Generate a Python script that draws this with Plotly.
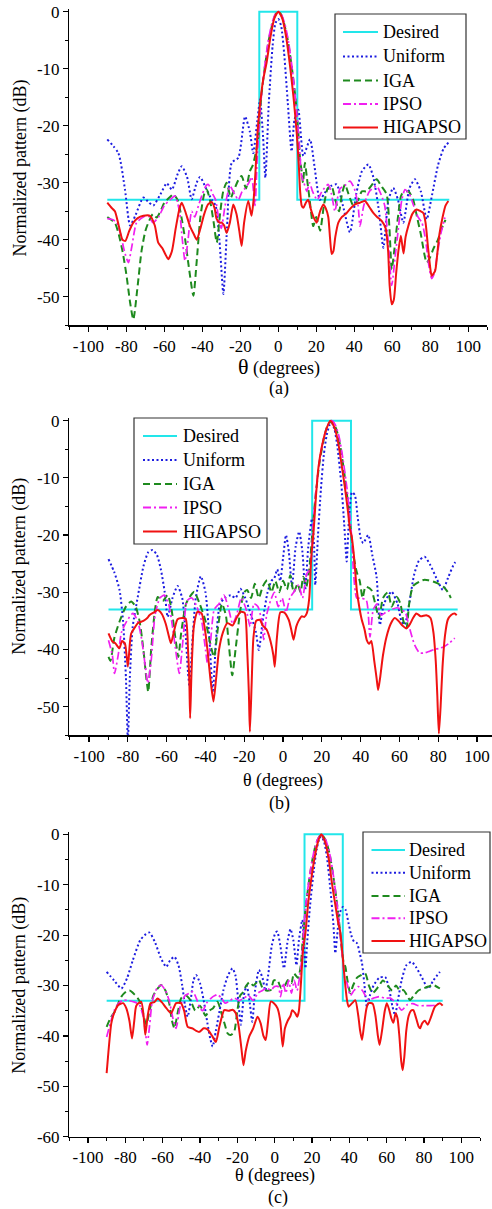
import plotly.graph_objects as go

# ---------------- data (a) ----------------
a_desired_t = [-90, -10, -10, 10, 10, 90]
a_desired_db = [-33, -33, 0, 0, -33, -33]

a_uniform_t = [-90, -84.2, -80.7, -78, -75.3, -71, -68, -65.8, -62, -58.7, -56, -53, -50.8, -48, -45.6, -43, -41.2,
               -38, -35, -33, -31, -28.9, -27, -24.5, -21, -17.5, -15, -13.2, -11, -9.6, -8, -6.8, -5, -3, -1.5, 0,
               1.5, 3, 5, 7, 8.5, 10.5, 13.2, 16.7, 19, 21.9, 25, 28, 30.7, 34, 37.7, 41, 44, 47.4, 50, 53, 55.3, 58,
               60.5, 63, 65.8, 69, 71.9, 75, 78.1, 81, 84, 87, 90]
a_uniform_db = [-22.4, -24.8, -31.2, -37.5, -35.8, -32.6, -33.5, -34, -32, -30.1, -31.2, -28.5, -27.1, -29, -32.9,
                -30, -29, -31, -33, -34, -40, -49.5, -38, -26.5, -25.6, -18.4, -21, -24.8, -19, -15.4, -22, -29.1,
                -16, -6, -2, -1.3, -2.5, -7, -16, -24.5, -19, -17.2, -25.3, -22.4, -27, -33, -31.5, -30.5, -30.3, -34,
                -38.7, -32, -28, -26.8, -29, -35, -41.4, -33, -30.9, -33, -37, -31, -29.4, -31.5, -36.4, -32, -27, -24,
                -22.8]

a_iga_t = [-90, -88, -86, -84, -82, -80, -78, -76.3, -74, -72, -70, -68.4, -66, -64, -62, -60, -57, -55.3, -53, -51,
           -49, -47, -44.7, -43, -41, -39, -37.7, -36, -34, -32.4, -30.5, -29, -27.2, -25, -23, -21, -19.3, -17, -15,
           -13.5, -12, -10.5, -9, -7, -5, -3, -1.5, 0, 1.5, 3, 5, 7, 9, 10.5, 11.5, 12.3, 13, 14, 15, 16.5, 18.4, 20,
           22, 24, 26, 28, 30, 32, 33.5, 35.1, 37, 39.5, 42, 44, 46.5, 49, 51.8, 54, 57, 58.5, 59.7, 61, 63, 65, 68.4,
           71, 73, 75, 78.1, 80, 81.6, 84, 86, 88]
a_iga_db = [-36, -36.5, -37, -39, -42, -46, -51, -54, -48, -42, -38.5, -37, -35.5, -36.1, -35, -33.5, -32.5, -32, -33,
            -36, -40, -45, -49.8, -44, -36, -32, -31.2, -33, -37, -40.5, -35, -31.5, -30, -32.6, -31, -29.5, -28.8,
            -31, -28, -27, -25, -22, -15, -9.5, -5, -2, -0.5, 0, -0.5, -2, -5, -9.5, -15, -21, -26, -28, -30, -26.5,
            -29, -33, -37.6, -36, -38.4, -34, -31, -30.6, -33, -35, -32, -30.3, -32, -34, -33, -31.5, -31.5, -30.5,
            -29.4, -30.5, -32, -38, -45.2, -42, -36, -32, -31.5, -33, -36, -39, -44, -43, -41.6, -40, -38, -36.5]

a_ipso_t = [-90, -87, -85, -83, -81, -78.9, -77, -74.6, -71, -68.4, -66, -63, -60, -57, -54.4, -52, -50.5, -49.1,
            -47.5, -45.6, -44, -42, -40, -38, -36.8, -34.5, -33, -31.5, -30, -28, -25.4, -23, -21, -19, -17.5, -15.5,
            -14, -12.3, -11, -9.5, -7.5, -5.5, -3.5, -1.5, 0, 1.5, 3.5, 5.5, 7.5, 9.5, 11, 12.3, 13.5, 15, 16.5, 18,
            20.5, 23, 26.3, 28, 29.8, 31, 32.5, 35, 37.7, 40, 42, 43, 45, 48, 51.8, 54, 56, 58, 59.7, 61.5, 63.2, 65,
            66.7, 69, 71.2, 73.5, 75.6, 77.5, 79, 80.7, 82, 83.5, 85.5, 87.7]
a_ipso_db = [-36.3, -36.5, -37, -39, -42, -44, -41, -37, -36, -35.8, -37, -36, -34, -33, -32.3, -35, -40, -43.7, -40,
             -35, -36, -34, -32, -30.5, -30.3, -32, -33, -36, -38, -34, -30.6, -32, -33, -31.5, -31, -30, -29, -34,
             -25, -17, -10.5, -5.5, -2.2, -0.4, 0, -0.4, -2.2, -5.5, -10.5, -17, -23, -28.8, -30, -31.5, -30, -31.5,
             -33, -31.5, -30.3, -32, -35, -33, -31, -30.5, -29.7, -31, -34, -37.6, -34, -31.5, -30.6, -32, -34, -41,
             -48, -43, -38, -33, -31.2, -32, -34, -36, -37, -40, -44, -46.8, -46, -43, -39, -36.1]

a_higapso_t = [-90, -88, -86, -84, -82, -80.5, -78.5, -76.3, -74, -71, -67.5, -65, -63.2, -61, -59.5, -57.9, -56, -54,
               -52, -50.8, -49, -46.5, -44.5, -42.9, -41, -39, -37, -35, -33.5, -32.5, -31, -29.8, -28.5, -27.2,
               -25.5, -23.7, -22, -20.5, -19.3, -18, -15.8, -14.1, -13, -12, -11, -10, -8, -6.2, -4, -2, 0, 2, 4, 6.2,
               8, 9.7, 10.8, 11.5, 12.3, 13.2, 14.5, 15.8, 17, 18.5, 20.2, 22, 23.7, 25, 26.3, 27.3, 28.1, 29, 30,
               31.6, 33.5, 36, 38, 40.4, 43, 45.6, 48, 50, 52, 54.4, 56.5, 57.8, 58.6, 59.7, 60.8, 62, 63.2, 64.5,
               65.9, 67, 68.5, 70.5, 72.8, 75, 76.3, 77.5, 78.7, 80, 80.7, 82.5, 83.5, 84.8, 86.5, 88, 89.5]
a_higapso_db = [-33.5, -34.3, -35, -37.5, -40, -40.2, -38.5, -37, -36.2, -35.8, -35.8, -37.5, -40.5, -41.5, -42.5,
                -43.4, -42, -38, -34.5, -33.5, -35, -37.6, -39, -40, -38, -35.5, -33.8, -33.4, -34.5, -36.3, -37, -37,
                -37.5, -38.8, -37, -33.8, -35.5, -38.5, -41.1, -37, -33.2, -35.8, -33, -28, -21.5, -17.5, -12, -9,
                -4.2, -1.1, 0, -1.1, -4.2, -9.6, -15, -21.3, -27, -31.5, -34, -34.4, -33.5, -33, -34.5, -36, -37, -35,
                -33.8, -34.5, -36, -40, -42.5, -42, -39.5, -37, -36, -35.3, -34.5, -33.8, -33.5, -33.2, -34.3, -35.3,
                -36, -36.7, -38, -42, -48, -51.3, -50.5, -46, -42, -39.3, -42.4, -39.5, -37.5, -35.5, -34.7, -35,
                -35.3, -37, -41, -45, -46.3, -45.5, -43, -39, -36, -34, -33.2]

# ---------------- data (b) ----------------
b_desired_t = [-90, 15, 15, 35, 35, 90]
b_desired_db = [-33, -33, 0, 0, -33, -33]

b_uniform_t = [-90, -87, -84.3, -82.5, -81, -80, -79, -77.5, -74.9, -72, -69.5, -67.2, -65, -63, -61, -59.5, -57,
               -54.4, -52, -50.5, -49, -48.2, -47, -45, -42.4, -40, -38, -36.2, -34.5, -32.5, -30, -27, -24.5, -22,
               -19.5, -16.5, -14, -12.5, -10.5, -8, -6, -4.5, -3, -1.5, 0, 1.5, 3, 4.6, 6.5, 8.3, 10, 11.4, 13, 14.9,
               16, 16.6, 18, 19.5, 21, 22.5, 24, 25, 26.5, 28, 30, 31.5, 32.8, 34, 35.5, 37, 38.5, 40, 41.3, 43.9, 46,
               48.2, 49.9, 52, 55.9, 59, 61, 62.7, 65, 67.5, 70, 73, 76, 79, 82.4, 85, 88.4, 90]
b_uniform_db = [-24.2, -26.5, -29.6, -35, -45, -56, -45, -36, -30.8, -25.5, -23, -22.6, -23.5, -26, -30, -34.3, -31,
                -28.9, -31, -36, -44, -46.5, -40, -31, -27.2, -30, -38, -47.5, -38, -32, -31, -30.5, -31, -29.4, -31,
                -34, -37, -40.1, -35, -30, -28, -27.5, -26, -28, -24, -20, -23, -29, -22, -19.4, -23, -29.6, -22,
                -17.1, -22, -28.7, -20, -12, -6, -2.5, -0.7, -0.3, -1.5, -4.5, -11, -18, -24.6, -17, -12.5, -13, -17,
                -20.5, -21.4, -20, -23.5, -27.3, -35.7, -32, -29.9, -32, -35, -35.7, -32, -27, -24.5, -23.8, -25.3,
                -27.5, -29.6, -27.5, -24.9, -24.5]

b_iga_t = [-90, -89, -87, -84.3, -81, -78.3, -76, -74, -72, -70.5, -69.5, -68, -66, -64.6, -62, -59.5, -57.5, -55.5,
           -54, -52.5, -50, -47.5, -45.8, -43, -40, -37.5, -35.6, -33.5, -31.5, -29.5, -28, -26.2, -24.5, -22, -20,
           -18.5, -16.5, -14.6, -12.5, -10.5, -8.2, -6, -4, -2, 0, 2, 3.7, 5.5, 7.5, 9, 10.4, 12, 13.5, 15, 16.5,
           18.5, 20.5, 22.5, 25, 27.5, 29.5, 31.5, 33.5, 35, 36.5, 38, 39.5, 41, 42.5, 45.5, 47.5, 49.5, 51.5, 54, 56,
           58.5, 60.5, 62, 63.6, 65, 67, 70.4, 73, 75, 77.2, 80, 82.5, 85, 86.5]
b_iga_db = [-41.3, -42, -38, -35.1, -32.5, -31.6, -32.5, -35, -40, -45, -47.4, -40, -33, -30.8, -31.5, -30.5, -33, -38,
            -41.3, -37, -32, -30.5, -29.9, -32, -35, -39, -41.3, -36, -32, -34, -39, -44.5, -40, -33, -30, -29.6, -31,
            -28.5, -31, -29, -27.9, -30, -28, -30, -28, -29.5, -27, -30, -28.5, -30, -27.3, -29, -26, -20, -14, -8,
            -4, -1.2, 0, -1.5, -4.5, -9, -14.5, -19.5, -24, -26.5, -28, -31, -29, -29.6, -32, -34.5, -31, -30, -32.5,
            -30.8, -32, -35, -36.3, -32, -28.9, -28.1, -27.8, -27.9, -28.1, -28.5, -29, -30, -31]

b_ipso_t = [-90, -88, -86.9, -85, -83.3, -80.5, -77.4, -75, -73, -71, -69.7, -68, -66, -63.5, -61.2, -59, -57, -55,
            -53.5, -51.5, -49.5, -47, -44.5, -42, -40, -39, -37.5, -35.5, -33, -30.5, -28, -26, -24, -21.5, -19, -17,
            -15, -13, -11, -10, -8.5, -6.5, -4.5, -2.5, -0.5, 1.5, 3.5, 5.5, 8, 10, 12.3, 14, 15.5, 17, 19, 21, 23, 25,
            27, 29, 31, 33, 34.5, 35.5, 36.2, 38, 40, 42.9, 44.8, 46.5, 48.5, 50.5, 53, 56, 58.7, 61, 63, 65, 67.8,
            70.4, 73, 75.6, 78, 80.5, 83, 86, 88.5]
b_ipso_db = [-38.4, -41, -44.2, -41, -37, -35, -33.7, -35, -38, -43, -45.9, -42, -34, -31, -30.5, -32, -36, -41,
             -44.2, -38, -31.5, -31, -32.5, -35, -40, -42.4, -39, -33, -32, -30.5, -33, -35.5, -34, -31, -33, -36,
             -32, -32.5, -35, -38.3, -34, -31.5, -30, -32.5, -31, -33.5, -31, -30, -28.7, -31, -26.7, -26, -18, -12,
             -6.5, -3, -0.8, 0, -0.8, -3, -7, -12, -17, -21, -26, -31, -31, -31.4, -37.8, -33, -32, -34, -33.5, -33,
             -32.7, -33, -33.5, -36, -39.2, -40.6, -40.6, -40.3, -40, -39.8, -39.5, -38.8, -38]

b_higapso_t = [-90, -88, -86.5, -84.4, -83, -81.5, -80, -79, -78.3, -76.5, -74.9, -72, -70, -68.9, -66.5, -64.6,
               -62.5, -60.5, -59, -57.8, -56, -54.4, -52, -50.2, -49, -48.3, -47.9, -47.2, -46, -44.1, -42, -40.5,
               -39, -37.5, -35.9, -34.5, -33, -31, -28.7, -26, -24, -21.9, -19.8, -18.5, -17.6, -17.1, -16.2, -15.3,
               -13.9, -12, -10.5, -8.5, -6.5, -5, -4.3, -3.2, -1.4, 0.5, 2.9, 4.2, 5.4, 6.8, 8, 9.6, 11, 12.2, 13.5,
               14.5, 15.7, 17, 18.3, 20, 22, 24.3, 26.5, 28.5, 30.3, 32, 33.5, 34.5, 35.4, 36.5, 38, 39.5, 40.5, 42,
               43.1, 44.4, 45.5, 47, 48.2, 49, 50, 51.5, 53.3, 55.5, 57.6, 59.5, 61.5, 63.6, 65.5, 67, 68.7, 71, 73.8,
               76, 77.5, 78.7, 79.5, 80.3, 81.2, 82.2, 83.5, 84.9, 86.5, 88.4, 89.5]
b_higapso_db = [-37.2, -38.6, -38.9, -39.8, -38.5, -39, -43, -39, -37.2, -36.2, -35.4, -35, -34.5, -34, -33.5, -33.1,
                -33.8, -35.5, -37.5, -38.9, -36.5, -34.7, -34.5, -34.6, -40, -46, -52, -44, -36, -33.4, -33.7, -36,
                -40, -45, -49.1, -45, -40, -37, -35.4, -35.8, -34.5, -33.4, -33.6, -40, -48, -54.4, -46, -38, -35,
                -34.8, -35.8, -36.5, -38.5, -41, -43, -38, -33.5, -33.5, -34.8, -36.5, -38.3, -36, -35, -34.2, -34.3,
                -33.7, -31, -24, -19.5, -13, -8, -4.5, -1.8, 0, -1.2, -4, -8, -12, -16, -19, -20.3, -23.5, -29.6,
                -33, -34.7, -36.5, -38.3, -39, -38.5, -42, -45, -47.1, -45, -41, -37.8, -35.5, -34.5, -35, -35.8,
                -36.3, -35.5, -34.5, -33.7, -34.2, -34, -34.5, -37, -42, -48, -54.7, -50, -43, -37.5, -34.8, -34,
                -33.7, -34]

# ---------------- data (c) ----------------
c_desired_t = [-90, 16, 16, 36.5, 36.5, 90]
c_desired_db = [-33, -33, 0, 0, -33, -33]

c_uniform_t = [-90, -86, -82.1, -79, -76, -72, -69, -67, -64, -61, -58.1, -56, -53.7, -51.5, -49.5, -48, -46.6, -45,
               -43.5, -42.1, -40, -38, -36, -34.5, -33.2, -31.5, -29.5, -27.5, -25, -22.6, -21, -19.5, -18.1, -16.5,
               -15, -13.5, -12, -10.5, -8.4, -6.5, -5, -3.5, -1.5, 0.5, 1.4, 3, 5, 7, 8.5, 10, 11.7, 13, 14.8, 15.8,
               16.5, 17.5, 19, 21, 22.5, 24, 25, 26.5, 28, 30, 31.5, 32.5, 33.5, 35, 36.5, 38, 39.5, 41, 42.5, 44.1,
               45.5, 46.8, 48, 49.4, 51, 53, 56, 59.2, 61.5, 63, 64.5, 66, 68, 70.5, 73.4, 76, 79, 82.3, 85, 88.5]
c_uniform_db = [-27.3, -29, -30.6, -28.5, -25, -21, -19.8, -19.5, -21.5, -24.5, -26.3, -25, -24.3, -26, -30, -34,
                -36.2, -33, -29, -27.9, -29.5, -33, -37.5, -40.5, -42.1, -39, -35, -31, -28, -26.6, -28, -33, -37.8,
                -32, -30, -33, -37.2, -31, -26.9, -28.5, -31, -28, -22, -19.5, -19.3, -22, -26.6, -21, -18.8, -21,
                -26, -21, -17, -22, -26.6, -21, -14, -7, -3, -0.8, -0.4, -1.5, -4.5, -11.5, -18, -23.6, -20, -15.5,
                -14.4, -15, -17.5, -20, -21.3, -21.6, -23.5, -25.6, -29.5, -34.2, -32, -30, -28.5, -28.3, -31, -34,
                -35.9, -33, -29, -26, -25.3, -26.5, -28.5, -30.6, -29, -27.3]

c_iga_t = [-90, -88, -85.7, -82.1, -79.5, -77.7, -75, -72.5, -70.5, -68.8, -67, -65, -62.5, -60.8, -58.5, -56.5,
           -55, -53.7, -52, -50, -47.5, -45, -42.5, -40, -37, -35, -33, -30.6, -28.5, -26.5, -25.2, -23.5, -21.7,
           -20, -18.5, -17.1, -15.5, -13.5, -11.5, -10, -8.4, -6.5, -4.5, -2.1, -0.5, 1.4, 3.5, 5.5, 7.1, 9, 10.3,
           12.5, 14, 15, 16.5, 18.5, 20.5, 22.5, 25, 27.5, 29.5, 31.5, 33.5, 35, 36, 37, 37.9, 39, 40.5, 42, 44, 46,
           48.5, 50.5, 52.5, 55.6, 58, 60.5, 63, 65, 67, 69, 71, 72.5, 74.5, 77, 79.6, 82.5, 85, 88.5]
c_iga_db = [-38.2, -36.5, -35.2, -32.2, -31.2, -31, -31.8, -33, -35.5, -37.8, -35, -32, -30.5, -29.9, -31, -33.5, -37,
            -38.5, -35.5, -32.5, -32, -33, -35, -34, -36, -35, -34.5, -33.2, -35.5, -38, -39.5, -39.8, -39.2, -35,
            -32, -31.4, -30.2, -29.3, -30, -29.5, -28.9, -30.5, -31, -30.9, -29, -28.9, -30.5, -30, -28.9, -29.5,
            -27.6, -28.5, -26, -21, -15, -9, -4.5, -1.5, 0, -1.3, -4, -8.5, -14, -19, -23, -25.5, -26.3, -29, -31.5,
            -30, -28.5, -28, -27.6, -30, -31.5, -30.2, -29, -30, -31, -30, -31, -30.9, -32, -32.9, -32, -31, -30.6,
            -30.2, -29.9, -30.6]

c_ipso_t = [-90, -88, -86, -83.5, -81.2, -78, -75, -72.5, -70.5, -69.3, -68.3, -67, -65.5, -63, -60.8, -58.5, -56.5,
            -54.5, -52.8, -50.5, -48, -45.5, -43.9, -42, -40, -38.5, -36.5, -34, -32, -30.6, -28.5, -26.5, -24,
            -21.5, -19, -16.5, -14, -11.5, -9, -6.5, -4.5, -2.1, 0, 1.9, 3.2, 4.5, 6, 7.5, 9, 10.5, 12, 13.5, 14.7,
            15.7, 17, 19, 21, 23, 25, 27, 29, 31, 33, 34.5, 35.5, 36.5, 37.5, 38.8, 40.5, 42.5, 44.8, 47, 50.3, 53,
            56, 59, 62, 65, 68.1, 71, 74, 77, 80.5, 83.5, 86, 88.5]
c_ipso_db = [-40.2, -37.5, -35, -33.5, -32.9, -33, -33.3, -33.8, -36, -39, -41.8, -38, -33, -30.5, -29.9, -31, -33,
             -36.5, -38.5, -34, -32, -31.5, -31.2, -32.5, -34.5, -35, -33.5, -32.5, -32, -31.8, -32.5, -33.5, -33,
             -32.5, -33, -32.5, -32, -33, -31.5, -31, -30.5, -30.9, -30.2, -30.2, -32.2, -29.5, -31.5, -29, -31.5,
             -29, -31, -28, -24, -18, -13, -7.5, -3.5, -1, 0, -0.8, -3, -7, -12.5, -17.5, -21.5, -25, -28.5, -29.6,
             -32, -31, -30.2, -31, -32.9, -32.5, -32.2, -32.5, -32.5, -33.5, -34.9, -33.8, -33.6, -34, -34, -34,
             -33.9, -33.4]

c_higapso_t = [-90, -89, -87.5, -86, -83.9, -81.2, -79.5, -77.8, -76.4, -75.2, -74.1, -71.5, -70.2, -69.3, -68,
               -66.5, -64.5, -62.7, -60.5, -58, -55.5, -52.8, -50.2, -48.5, -46.6, -44, -42, -40.4, -38, -36, -33.5,
               -31.5, -29.5, -27, -24.5, -22.5, -20.8, -19.3, -17.8, -16.7, -15.5, -13.5, -11.5, -9.2, -7.5, -6,
               -4.8, -3.5, -2.1, -0.4, 1.5, 3, 4.3, 5.5, 7, 8.5, 9.4, 11, 12.1, 13, 14, 15.2, 16.5, 18, 19.2, 21, 23,
               24.9, 27, 29, 30.8, 32.5, 34, 35.2, 36.5, 37.9, 38.8, 39.6, 41.5, 43.2, 44.8, 45.8, 46.8, 48, 49.2,
               50.3, 52.5, 54, 55.3, 56.2, 57.5, 59, 60.1, 61.5, 62.5, 63.6, 64.8, 65.8, 66.8, 67.8, 68.6, 69.5, 70.5,
               71.8, 73, 74.3, 75.8, 77.2, 77.9, 79, 80.5, 82, 83.5, 85.9, 88.5, 90]
c_higapso_db = [-47.4, -43, -37.5, -35.5, -33.9, -33.5, -34.5, -37, -40.5, -37, -34, -33.2, -36, -39.8, -36, -33.5,
                -33.3, -32.6, -33.3, -34.5, -35.5, -33.5, -33.5, -35, -38.2, -38.5, -39, -39.2, -38.5, -38.7, -40,
                -41.2, -38, -34.9, -35, -34.8, -35.5, -38, -42.5, -45.8, -43, -40, -38.5, -36.2, -37.5, -40, -40.8,
                -37, -33.2, -33.5, -34.5, -37, -42.1, -38.5, -37, -36, -34.9, -35.5, -36.2, -35, -30, -23, -19.5,
                -13.5, -10, -5.5, -1.8, 0, -1.5, -5, -10, -14, -17.5, -19.5, -24.5, -30.2, -33, -34.2, -33.5, -32.9,
                -36, -39, -40.8, -37.5, -34.5, -33.5, -33.6, -36, -40, -41.8, -39, -35, -33.5, -35, -36.5, -37.4,
                -35.5, -36.5, -40, -45, -46.8, -44, -39, -36, -35, -34.9, -36.5, -38.2, -38.5, -37.5, -37, -37.8,
                -36.5, -34.2, -33.5, -34]

series_names = ["Desired", "Uniform", "IGA", "IPSO", "HIGAPSO"]
x_tick_vals = [-100, -80, -60, -40, -20, 0, 20, 40, 60, 80, 100]
x_tick_text = ["-100", "-80", "-60", "-40", "-20", "0", "20", "40", "60", "80", "100"]
y_tick_vals_ab = [0, -10, -20, -30, -40, -50]
y_tick_text_ab = ["0", "-10", "-20", "-30", "-40", "-50"]
y_tick_vals_c = [0, -10, -20, -30, -40, -50, -60]
y_tick_text_c = ["0", "-10", "-20", "-30", "-40", "-50", "-60"]

# ---------------- styles ----------------
FONT = "Liberation Serif, Times New Roman, DejaVu Serif, serif"
styles = {
    "Desired": dict(color="#22E6EA", width=2, dash="solid"),
    "Uniform": dict(color="#1C1CE0", width=2, dash="2px,2.5px"),
    "IGA": dict(color="#1E8A1E", width=2, dash="7px,4px"),
    "IPSO": dict(color="#F020F0", width=1.7, dash="8px,3px,2px,3px"),
    "HIGAPSO": dict(color="#F01212", width=2, dash="solid"),
}

panels = [
    ("", [(a_desired_t, a_desired_db), (a_uniform_t, a_uniform_db), (a_iga_t, a_iga_db),
          (a_ipso_t, a_ipso_db), (a_higapso_t, a_higapso_db)]),
    ("2", [(b_desired_t, b_desired_db), (b_uniform_t, b_uniform_db), (b_iga_t, b_iga_db),
           (b_ipso_t, b_ipso_db), (b_higapso_t, b_higapso_db)]),
    ("3", [(c_desired_t, c_desired_db), (c_uniform_t, c_uniform_db), (c_iga_t, c_iga_db),
           (c_ipso_t, c_ipso_db), (c_higapso_t, c_higapso_db)]),
]

fig = go.Figure()
for suffix, data in panels:
    for name, (t, db) in zip(series_names, data):
        st = styles[name]
        fig.add_trace(go.Scatter(
            x=t, y=db, mode="lines", name=name, showlegend=False,
            xaxis="x" + suffix, yaxis="y" + suffix,
            line=dict(color=st["color"], width=st["width"], dash=st["dash"],
                      shape="linear" if name == "Desired" else "spline", smoothing=0.6),
        ))

W, H = 492, 1209


def py(p):
    return 1 - p / H


def xaxis_cfg(domain, rng):
    return dict(domain=domain, range=rng, showline=True, linecolor="black", linewidth=1.3,
                showgrid=False, zeroline=False, ticks="outside", ticklen=5, tickwidth=1.2, tickcolor="black",
                tickmode="array", tickvals=x_tick_vals, ticktext=x_tick_text,
                tickfont=dict(family=FONT, size=17, color="black"),
                minor=dict(tickmode="linear", tick0=0, dtick=10, ticks="outside", ticklen=3, tickwidth=1,
                           tickcolor="black"),
                fixedrange=True, automargin=False)


def yaxis_cfg(domain, rng, anchor, vals, text):
    return dict(domain=domain, range=rng, anchor=anchor, showline=True, linecolor="black", linewidth=1.3,
                showgrid=False, zeroline=False, ticks="outside", ticklen=5, tickwidth=1.2, tickcolor="black",
                tickmode="array", tickvals=vals, ticktext=text,
                tickfont=dict(family=FONT, size=17, color="black"),
                minor=dict(tickmode="linear", tick0=0, dtick=5, ticks="outside", ticklen=3, tickwidth=1,
                           tickcolor="black"),
                fixedrange=True, automargin=False)


xl = 69.3 / W
fig.update_layout(
    width=W, height=H, margin=dict(l=0, r=0, t=0, b=0, autoexpand=False),
    paper_bgcolor="white", plot_bgcolor="white",
    font=dict(family=FONT, size=17, color="black"),
    xaxis=xaxis_cfg([xl, 487.3 / W], [-110, 110]) | dict(anchor="y"),
    yaxis=yaxis_cfg([py(325.3), py(9.4)], [-55, 0.4], "x", y_tick_vals_ab, y_tick_text_ab),
    xaxis2=xaxis_cfg([xl, 1.0], [-110.2, 107.7]) | dict(anchor="y2"),
    yaxis2=yaxis_cfg([py(735.3), py(418.4)], [-55, 0.4], "x2", y_tick_vals_ab, y_tick_text_ab),
    xaxis3=xaxis_cfg([xl, 480 / W], [-110, 110]) | dict(anchor="y3"),
    yaxis3=yaxis_cfg([py(1136.7), py(832.3)], [-60, 0.4], "x3", y_tick_vals_c, y_tick_text_c),
    showlegend=False,
)

# ---------------- legends (drawn as box + samples + text) ----------------
legend_boxes = [
    (335, 14, 466, 139, 343, 378, 381, [32, 56.5, 80.5, 104, 127.5]),
    (134, 418, 267, 544, 143, 177, 181, [436, 460, 484, 507.5, 531.5]),
    (363, 832, 490, 953, 371.5, 405, 407, [850, 872.7, 896, 918.3, 941]),
]
shapes = []
ann = []
for (bl, bt, br, bb, s0, s1, tx, ys) in legend_boxes:
    shapes.append(dict(type="rect", xref="paper", yref="paper", x0=bl / W, x1=br / W, y0=py(bb), y1=py(bt),
                       line=dict(color="#333333", width=1.2), fillcolor="white", layer="above"))
    for name, yc in zip(series_names, ys):
        st = styles[name]
        shapes.append(dict(type="line", xref="paper", yref="paper", x0=s0 / W, x1=s1 / W, y0=py(yc), y1=py(yc),
                           line=dict(color=st["color"], width=2, dash=st["dash"]), layer="above"))
        ann.append(dict(text=name, x=tx / W, y=py(yc), xref="paper", yref="paper", showarrow=False,
                        xanchor="left", yanchor="middle", font=dict(family=FONT, size=18, color="black")))

ytitle = "Normalized pattern (dB)"
for yc in (168.5, 566.7, 985.8):
    ann.append(dict(text=ytitle, x=20 / W, y=py(yc), xref="paper", yref="paper", showarrow=False,
                    textangle=-90, font=dict(family=FONT, size=18), xanchor="center", yanchor="middle"))
ann.append(dict(text="<span style='font-size:22px'>θ</span> (degrees)", x=278.5 / W, y=py(366.5),
                xref="paper", yref="paper", showarrow=False, font=dict(family=FONT, size=18),
                xanchor="center", yanchor="middle"))
ann.append(dict(text="θ (degrees)", x=283 / W, y=py(780), xref="paper", yref="paper", showarrow=False,
                font=dict(family=FONT, size=18), xanchor="center", yanchor="middle"))
ann.append(dict(text="θ (degrees)", x=275 / W, y=py(1175.5), xref="paper", yref="paper", showarrow=False,
                font=dict(family=FONT, size=18), xanchor="center", yanchor="middle"))
for lab, xc, yc in (("(a)", 279, 388.5), ("(b)", 279, 803.5), ("(c)", 278, 1197.5)):
    ann.append(dict(text=lab, x=xc / W, y=py(yc), xref="paper", yref="paper", showarrow=False,
                    font=dict(family=FONT, size=18), xanchor="center", yanchor="middle"))
fig.update_layout(shapes=shapes, annotations=ann)

fig.write_html("out.html", config={"displayModeBar": False, "staticPlot": True},
               post_script="document.body.style.margin='0px';document.body.style.overflow='hidden';")
